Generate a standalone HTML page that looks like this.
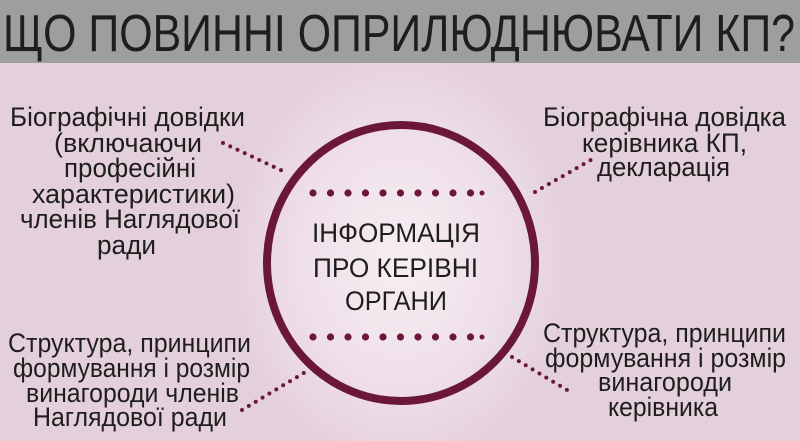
<!DOCTYPE html>
<html><head><meta charset="utf-8"><style>
body{margin:0;width:800px;height:441px;overflow:hidden;position:relative;font-family:"Liberation Sans",sans-serif;
background:radial-gradient(ellipse 170px 210px at 400px 260px,#f7eef3 0%,#efdfe8 60%,#e4d0db 100%);}
</style></head><body>
<svg width="800" height="441" style="position:absolute;left:0;top:0" font-family="Liberation Sans, sans-serif" fill="#1e1e1e">
<rect x="0" y="0" width="800" height="63" fill="#9e9e9e"/>
<text x="3" y="51" font-size="52" textLength="792" lengthAdjust="spacingAndGlyphs">ЩО  ПОВИННІ  ОПРИЛЮДНЮВАТИ  КП?</text>
<ellipse cx="401" cy="263" rx="134" ry="138" fill="none" stroke="#6b1838" stroke-width="8"/>
<g fill="#6b1838">
<g id="row"><circle cx="313" cy="193" r="3.6"/><circle cx="330.5" cy="193" r="3.6"/><circle cx="348" cy="193" r="3.6"/><circle cx="365.5" cy="193" r="3.6"/><circle cx="383" cy="193" r="3.6"/><circle cx="400.5" cy="193" r="3.6"/><circle cx="418" cy="193" r="3.6"/><circle cx="435.5" cy="193" r="3.6"/><circle cx="453" cy="193" r="3.6"/><circle cx="470.5" cy="193" r="3.6"/><circle cx="482" cy="193" r="2.5"/></g>
<use href="#row" y="144"/>
</g>
<g stroke="#6b1838" stroke-width="4" stroke-linecap="round" stroke-dasharray="0 8" fill="none">
<line x1="223" y1="143" x2="285" y2="172"/>
<line x1="535" y1="192" x2="596" y2="157"/>
<line x1="242" y1="410" x2="307" y2="371"/>
<line x1="512" y1="357" x2="572" y2="393"/>
</g>
<g font-size="27">
<text x="312" y="242" textLength="168" lengthAdjust="spacingAndGlyphs">ІНФОРМАЦІЯ</text>
<text x="313" y="277" textLength="165" lengthAdjust="spacingAndGlyphs">ПРО КЕРІВНІ</text>
<text x="345" y="310" textLength="102" lengthAdjust="spacingAndGlyphs">ОРГАНИ</text>

<text x="10" y="126" textLength="235" lengthAdjust="spacingAndGlyphs">Біографічні довідки</text>
<text x="54" y="152" textLength="148" lengthAdjust="spacingAndGlyphs">(включаючи</text>
<text x="64" y="177" textLength="132" lengthAdjust="spacingAndGlyphs">професійні</text>
<text x="32" y="203" textLength="203" lengthAdjust="spacingAndGlyphs">характеристики)</text>
<text x="20" y="228" textLength="220" lengthAdjust="spacingAndGlyphs">членів Наглядової</text>
<text x="97" y="254" textLength="59" lengthAdjust="spacingAndGlyphs">ради</text>

<text x="543" y="126" textLength="243" lengthAdjust="spacingAndGlyphs">Біографічна довідка</text>
<text x="582" y="152" textLength="165" lengthAdjust="spacingAndGlyphs">керівника КП,</text>
<text x="597" y="176" textLength="133" lengthAdjust="spacingAndGlyphs">декларація</text>

<text x="8" y="352" textLength="243" lengthAdjust="spacingAndGlyphs">Структура, принципи</text>
<text x="13" y="377" textLength="237" lengthAdjust="spacingAndGlyphs">формування і розмір</text>
<text x="26" y="402" textLength="213" lengthAdjust="spacingAndGlyphs">винагороди членів</text>
<text x="33" y="426" textLength="194" lengthAdjust="spacingAndGlyphs">Наглядової ради</text>

<text x="543" y="342" textLength="243" lengthAdjust="spacingAndGlyphs">Структура, принципи</text>
<text x="545" y="367" textLength="241" lengthAdjust="spacingAndGlyphs">формування і розмір</text>
<text x="598" y="391" textLength="134" lengthAdjust="spacingAndGlyphs">винагороди</text>
<text x="608" y="416" textLength="110" lengthAdjust="spacingAndGlyphs">керівника</text>
</g>
</svg>
</body></html>
